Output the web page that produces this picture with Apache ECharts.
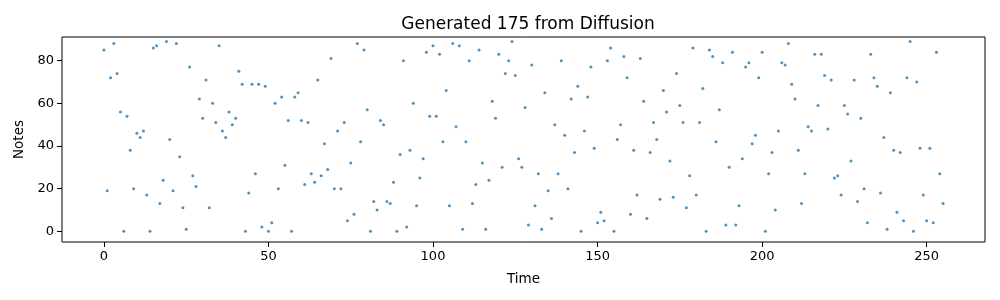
<!DOCTYPE html>
<html>
<head>
<meta charset="utf-8">
<script src="https://cdn.jsdelivr.net/npm/echarts@6/dist/echarts.min.js"></script>
<style>html,body{margin:0;padding:0;background:#fff}#c{width:1000px;height:300px}</style>
</head>
<body>
<div id="c"></div>
<script>
const title = "Generated 175 from Diffusion";
const xLabel = "Time";
const yLabel = "Notes";
const xTicks = [0, 50, 100, 150, 200, 250];
const yTicks = [0, 20, 40, 60, 80];
const notes = [
85,19,72,88,74,56,0,54,38,20,46,44,47,17,0,86,87,13,24,89,
43,19,88,35,11,1,77,26,21,62,53,71,11,60,51,87,47,44,56,50,
53,75,69,0,18,69,27,69,2,68,0,4,60,20,63,31,52,0,63,65,
52,22,51,27,23,71,26,41,29,81,20,47,20,51,5,32,8,88,42,85,
57,0,14,10,52,50,14,13,23,0,36,80,2,38,60,12,25,34,84,54,
87,54,83,42,66,12,88,49,87,1,42,80,13,22,85,32,1,24,61,53,
83,30,74,80,89,73,34,30,58,3,78,12,27,1,65,19,6,50,27,80,
45,20,62,37,68,0,47,63,77,39,4,9,5,80,86,0,43,50,82,72,
8,38,17,81,61,6,37,51,43,15,66,56,33,16,74,59,51,11,26,86,
17,51,67,0,85,82,42,57,79,3,30,84,3,12,34,77,79,41,45,72,
84,0,27,37,10,47,79,78,88,69,62,38,13,27,49,47,83,59,83,73,
48,71,25,26,17,59,55,33,71,14,53,20,4,83,72,68,18,44,1,65,
38,9,37,5,72,89,0,70,39,17,5,39,4,84,27,13
];
const points = notes.map((v, i) => [i, v]);

const font = "DejaVu Sans";
const chart = echarts.init(document.getElementById('c'), null, {renderer: 'canvas'});
chart.setOption({
  animation: false,
  title: {
    text: title, left: 523, top: 11, textAlign: 'center',
    textStyle: {fontFamily: font, fontSize: 17, fontWeight: 'normal', color: '#000'}
  },
  grid: {left: 62, right: 15, top: 37, bottom: 58, show: true, borderColor: '#000', borderWidth: 1, backgroundColor: 'transparent'},
  xAxis: {
    type: 'value', min: -12.75, max: 267.75,
    name: xLabel, nameLocation: 'middle', nameGap: 30,
    nameTextStyle: {fontFamily: font, fontSize: 13.5, color: '#000'},
    axisLine: {show: false, onZero: false},
    axisTick: {show: true, length: 5, inside: false, customValues: xTicks, lineStyle: {color: '#000'}},
    axisLabel: {customValues: xTicks, margin: 8, fontFamily: font, fontSize: 13, color: '#000'},
    splitLine: {show: false}
  },
  yAxis: {
    type: 'value', min: -5, max: 91.1,
    name: yLabel, nameLocation: 'middle', nameGap: 35, nameRotate: 90,
    nameTextStyle: {fontFamily: font, fontSize: 13.5, color: '#000'},
    axisLine: {show: false, onZero: false},
    axisTick: {show: true, length: 5, inside: false, customValues: yTicks, lineStyle: {color: '#000'}},
    axisLabel: {customValues: yTicks, margin: 8, fontFamily: font, fontSize: 13, color: '#000'},
    splitLine: {show: false}
  },
  series: [{
    type: 'scatter', data: points, symbol: 'circle', symbolSize: 3,
    itemStyle: {color: '#1f77b4'}
  }]
});
</script>
</body>
</html>
